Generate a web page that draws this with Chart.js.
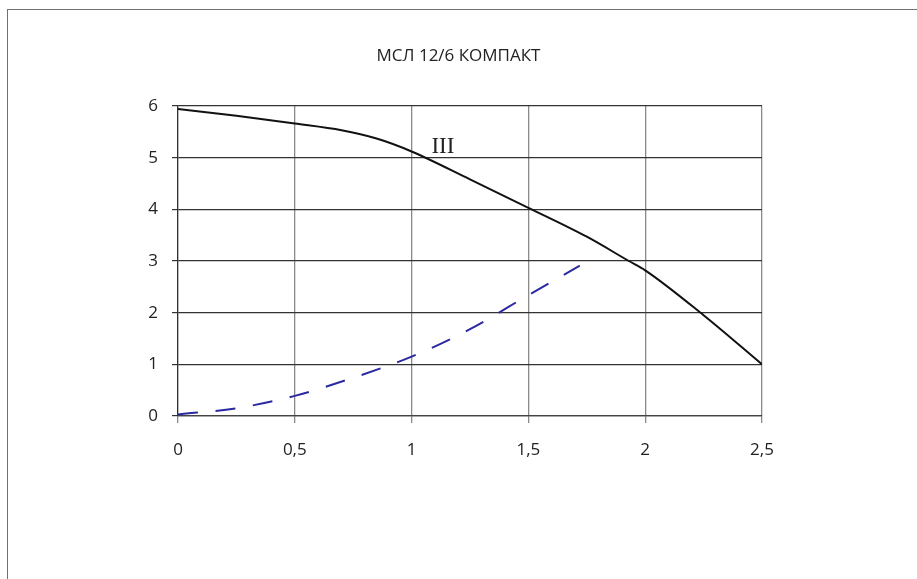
<!DOCTYPE html>
<html>
<head>
<meta charset="utf-8">
<script src="https://cdn.jsdelivr.net/npm/chart.js@4/dist/chart.umd.min.js"></script>
<style>
  html, body { margin: 0; padding: 0; background: #fff; overflow: hidden; }
  #wrap { position: relative; width: 917px; height: 579px; }
  #frame { position: absolute; left: 7px; top: 9px; right: 0; bottom: 0;
           border-top: 1px solid #707070; border-left: 1px solid #707070; pointer-events: none; }
  canvas { position: absolute; left: 0; top: 0; }
</style>
</head>
<body>
<div id="wrap">
  <canvas id="c" width="917" height="579"></canvas>
  <div id="frame"></div>
</div>
<script>
// ---- data ----
const chartTitle = 'МСЛ 12/6 КОМПАКТ';
const xTickLabels = ['0', '0,5', '1', '1,5', '2', '2,5'];
const xTickValues = [0, 0.5, 1, 1.5, 2, 2.5];
const yTickLabels = ['0', '1', '2', '3', '4', '5', '6'];

const headX = [0, 0.25, 0.5, 0.7, 0.85, 1.0, 1.25, 1.5, 1.75, 1.93, 2.0, 2.25, 2.5];
const headY = [5.94, 5.81, 5.66, 5.53, 5.37, 5.12, 4.58, 4.03, 3.47, 3.0, 2.82, 1.95, 1.0];

const powerX = [0, 0.25, 0.5, 0.75, 1.0, 1.25, 1.5, 1.72];
const powerY = [0.03, 0.15, 0.39, 0.74, 1.15, 1.68, 2.34, 2.91];

const curveLabels = [{ text: 'III', x: 1.085, y: 5.1 }];

// ---- build ----
const toPoints = (xs, ys) => xs.map((x, i) => ({ x: x, y: ys[i] }));
const SANS = '"Open Sans", "Noto Sans", sans-serif';

const textPlugin = {
  id: 'texts',
  afterDatasetsDraw(chart) {
    const ctx = chart.ctx;
    const xs = chart.scales.x, ys = chart.scales.y;
    ctx.save();
    ctx.font = '23px "Liberation Serif", "DejaVu Serif", serif';
    ctx.fillStyle = '#222';
    ctx.textAlign = 'left';
    ctx.textBaseline = 'alphabetic';
    curveLabels.forEach(l => ctx.fillText(l.text, xs.getPixelForValue(l.x), ys.getPixelForValue(l.y)));
    ctx.font = '17px ' + SANS;
    ctx.textAlign = 'center';
    ctx.textBaseline = 'middle';
    ctx.fillText(chartTitle, chart.width / 2, 56);
    ctx.restore();
  }
};

new Chart(document.getElementById('c'), {
  type: 'scatter',
  data: {
    datasets: [
      {
        data: toPoints(headX, headY),
        showLine: true,
        borderColor: '#111',
        borderWidth: 2,
        pointRadius: 0,
        cubicInterpolationMode: 'monotone',
        fill: false
      },
      {
        data: toPoints(powerX, powerY),
        showLine: true,
        borderColor: '#2a2aa0',
        borderWidth: 2,
        borderDash: [20, 17.7],
        pointRadius: 0,
        cubicInterpolationMode: 'monotone',
        fill: false
      }
    ]
  },
  options: {
    responsive: false,
    animation: false,
    events: [],
    layout: { padding: { left: 0, right: 155, top: 106, bottom: 0 } },
    plugins: {
      legend: { display: false },
      tooltip: { enabled: false },
      title: { display: false }
    },
    scales: {
      x: {
        type: 'linear',
        min: 0, max: 2.5,
        afterBuildTicks(scale) { scale.ticks = xTickValues.map(v => ({ value: v })); },
        afterFit(scale) { scale.height = 163; },
        ticks: {
          color: '#222',
          font: { family: SANS, size: 17 },
          padding: 17,
          maxRotation: 0,
          callback: (v, i) => xTickLabels[i]
        },
        grid: { color: '#8a8a8a', lineWidth: 1.3, tickLength: 7, drawTicks: true },
        border: { display: true, color: '#444', width: 1.3 }
      },
      y: {
        type: 'linear',
        min: 0, max: 6,
        afterBuildTicks(scale) { scale.ticks = yTickLabels.map(v => ({ value: Number(v) })); },
        afterFit(scale) { scale.width = 178; },
        ticks: {
          color: '#222',
          font: { family: SANS, size: 17 },
          padding: 14,
          callback: (v, i) => yTickLabels[i]
        },
        grid: { color: '#333', lineWidth: 1.2, tickLength: 6, drawTicks: true },
        border: { display: true, color: '#333', width: 1.2 }
      }
    }
  },
  plugins: [textPlugin]
});
</script>
</body>
</html>
